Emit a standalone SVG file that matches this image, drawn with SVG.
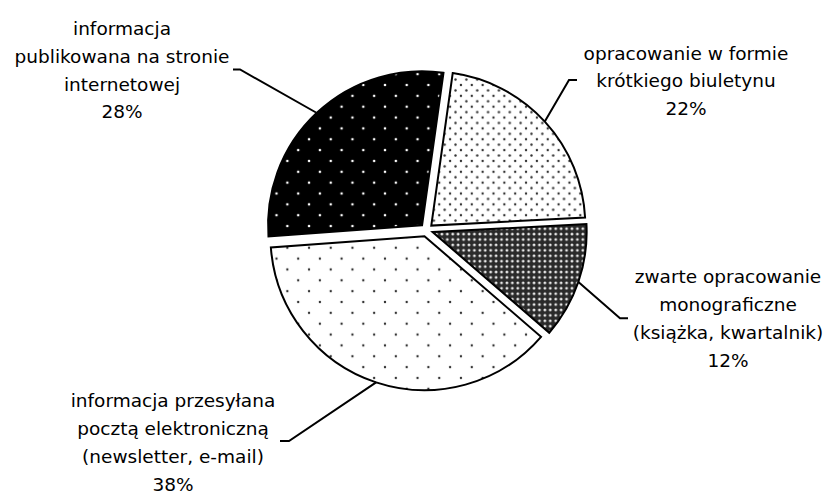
<svg xmlns="http://www.w3.org/2000/svg" width="826" height="493" viewBox="0 0 826 493">
<style>
.lbl{font-family:"DejaVu Sans","Liberation Sans",sans-serif;font-size:18.5px;fill:#000;text-anchor:middle}
.sl{stroke:#000;stroke-width:2;stroke-linejoin:miter}
.ld{fill:none;stroke:#000;stroke-width:2}
</style>
<defs>
<pattern id="pBlack" patternUnits="userSpaceOnUse" x="363.3" y="85" width="21.7" height="21.7">
<rect width="21.7" height="21.7" fill="#000"/>
<circle cx="0" cy="0" r="1.3" fill="#fff"/><circle cx="21.7" cy="0" r="1.3" fill="#fff"/>
<circle cx="0" cy="21.7" r="1.3" fill="#fff"/><circle cx="21.7" cy="21.7" r="1.3" fill="#fff"/>
<circle cx="10.85" cy="10.85" r="1.3" fill="#fff"/>
</pattern>
<pattern id="pSparse" patternUnits="userSpaceOnUse" x="363.3" y="85" width="21.7" height="21.7">
<rect width="21.7" height="21.7" fill="#fff"/>
<circle cx="0" cy="0" r="1.2" fill="#333"/><circle cx="21.7" cy="0" r="1.2" fill="#333"/>
<circle cx="0" cy="21.7" r="1.2" fill="#333"/><circle cx="21.7" cy="21.7" r="1.2" fill="#333"/>
<circle cx="10.85" cy="10.85" r="1.2" fill="#333"/>
</pattern>
<pattern id="pDense" patternUnits="userSpaceOnUse" x="363.3" y="85" width="10.85" height="10.85">
<rect width="10.85" height="10.85" fill="#fff"/>
<circle cx="0" cy="0" r="1.2" fill="#333"/><circle cx="10.85" cy="0" r="1.2" fill="#333"/>
<circle cx="0" cy="10.85" r="1.2" fill="#333"/><circle cx="10.85" cy="10.85" r="1.2" fill="#333"/>
<circle cx="5.42" cy="5.42" r="1.2" fill="#333"/>
</pattern>
<pattern id="pGrid" patternUnits="userSpaceOnUse" x="363.3" y="85" width="5.42" height="5.42">
<rect width="5.42" height="5.42" fill="#2a2a2a"/>
<circle cx="2.71" cy="2.71" r="1.4" fill="#e8e8e8"/>
</pattern>
</defs>
<g id="slice-internet">
<path class="sl" fill="url(#pBlack)" d="M422.06,225.25 L268.47,236.53 A154,154 0 0 1 443.49,72.75 Z"/>
</g>
<g id="slice-biuletyn">
<path class="sl" fill="url(#pDense)" d="M431.29,225.61 L452.72,73.11 A154,154 0 0 1 585.08,217.55 Z"/>
</g>
<g id="slice-monografia">
<path class="sl" fill="url(#pGrid)" d="M432.65,232.11 L586.44,224.05 A154,154 0 0 1 549.23,332.74 Z"/>
</g>
<g id="slice-email">
<path class="sl" fill="url(#pSparse)" d="M424.46,236.17 L541.04,336.80 A154,154 0 0 1 270.87,247.45 Z"/>
</g>
<g id="connectors">
<polyline class="ld" points="233,69.5 240,69.5 316,112.5"/>
<polyline class="ld" points="544.8,121.6 569,80 577,80"/>
<polyline class="ld" points="578.4,282 620,318.3 628,318.3"/>
<polyline class="ld" points="376.1,382.4 289,441 280,441"/>
</g>
<g id="label-internet">
<text class="lbl" x="122" y="35">informacja</text>
<text class="lbl" x="122" y="62.8">publikowana na stronie</text>
<text class="lbl" x="122" y="90.6">internetowej</text>
<text class="lbl" x="122" y="118.4">28%</text>
</g>
<g id="label-biuletyn">
<text class="lbl" x="686" y="59.5">opracowanie w formie</text>
<text class="lbl" x="686" y="87.2">krótkiego biuletynu</text>
<text class="lbl" x="686" y="115">22%</text>
</g>
<g id="label-monografia">
<text class="lbl" x="728" y="283.3">zwarte opracowanie</text>
<text class="lbl" x="728" y="311">monograficzne</text>
<text class="lbl" x="728" y="338.8">(książka, kwartalnik)</text>
<text class="lbl" x="728" y="366.5">12%</text>
</g>
<g id="label-email">
<text class="lbl" x="173" y="407">informacja przesyłana</text>
<text class="lbl" x="173" y="435">pocztą elektroniczną</text>
<text class="lbl" x="173" y="463">(newsletter, e-mail)</text>
<text class="lbl" x="173" y="490.5">38%</text>
</g>
</svg>
